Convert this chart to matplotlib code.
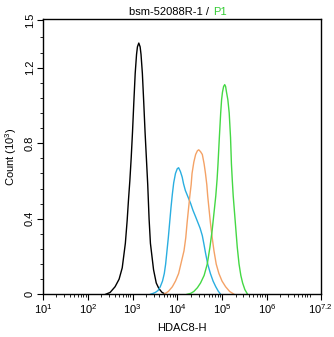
import matplotlib
matplotlib.use("Agg")
import matplotlib.pyplot as plt
from matplotlib.ticker import FixedLocator, LogLocator, NullFormatter
import numpy as np

plt.rcParams['font.family'] = ['Liberation Sans', 'DejaVu Sans']
plt.rcParams['mathtext.fontset'] = 'custom'
plt.rcParams['mathtext.rm'] = 'Liberation Sans'
plt.rcParams['mathtext.it'] = 'Liberation Sans'

# histogram outlines: log10(HDAC8-H) vs count (10^3)
black_logx = [2.40, 2.50, 2.61, 2.70, 2.77, 2.84, 2.88, 2.91, 2.94, 2.97, 3.00,
              3.03, 3.06, 3.09, 3.11, 3.14, 3.17, 3.19, 3.22, 3.25, 3.28, 3.31,
              3.34, 3.37, 3.40, 3.44, 3.47, 3.53, 3.59, 3.66, 3.74]
black_count = [0.0, 0.01, 0.04, 0.08, 0.14, 0.27, 0.39, 0.50, 0.60, 0.72, 0.86,
               1.02, 1.17, 1.27, 1.31, 1.33, 1.31, 1.27, 1.17, 1.02, 0.86, 0.72,
               0.58, 0.40, 0.27, 0.19, 0.13, 0.06, 0.03, 0.01, 0.0]

blue_logx = [3.40, 3.46, 3.51, 3.57, 3.62, 3.67, 3.71, 3.74, 3.77, 3.80, 3.83,
             3.86, 3.89, 3.92, 3.96, 4.00, 4.03, 4.07, 4.11, 4.14, 4.18, 4.24,
             4.30, 4.35, 4.41, 4.46, 4.51, 4.56, 4.60, 4.63, 4.68, 4.74, 4.80,
             4.86, 4.92, 4.97]
blue_count = [0.0, 0.005, 0.01, 0.02, 0.04, 0.07, 0.11, 0.16, 0.23, 0.30, 0.38,
              0.46, 0.53, 0.59, 0.64, 0.665, 0.67, 0.65, 0.62, 0.585, 0.55, 0.515,
              0.48, 0.445, 0.41, 0.38, 0.35, 0.31, 0.26, 0.22, 0.16, 0.11, 0.07,
              0.04, 0.015, 0.0]

orange_logx = [3.70, 3.80, 3.89, 3.96, 4.03, 4.09, 4.15, 4.19, 4.22, 4.25, 4.28,
               4.31, 4.33, 4.37, 4.41, 4.45, 4.48, 4.52, 4.56, 4.60, 4.63, 4.66,
               4.68, 4.71, 4.74, 4.78, 4.82, 4.87, 4.93, 5.00, 5.08, 5.17, 5.27]
orange_count = [0.0, 0.015, 0.04, 0.07, 0.11, 0.17, 0.23, 0.30, 0.38, 0.45, 0.52,
                0.58, 0.64, 0.70, 0.74, 0.76, 0.765, 0.755, 0.74, 0.69, 0.64, 0.58,
                0.52, 0.45, 0.38, 0.30, 0.23, 0.16, 0.11, 0.07, 0.04, 0.015, 0.0]

green_logx = [4.22, 4.30, 4.37, 4.45, 4.52, 4.60, 4.67, 4.73, 4.78, 4.82, 4.86,
              4.89, 4.91, 4.94, 4.97, 4.99, 5.01, 5.035, 5.06, 5.08, 5.10, 5.13,
              5.16, 5.19, 5.21, 5.23, 5.25, 5.28, 5.31, 5.34, 5.38, 5.42, 5.46,
              5.51, 5.57]
green_count = [0.0, 0.005, 0.015, 0.035, 0.06, 0.10, 0.16, 0.25, 0.34, 0.43, 0.52,
               0.61, 0.69, 0.83, 0.96, 1.03, 1.07, 1.10, 1.11, 1.10, 1.07, 1.03,
               0.96, 0.83, 0.69, 0.60, 0.52, 0.43, 0.34, 0.25, 0.16, 0.10, 0.06,
               0.025, 0.0]

curves = [
    (black_logx, black_count, '#000000'),
    (blue_logx, blue_count, '#2aaee0'),
    (orange_logx, orange_count, '#f4a266'),
    (green_logx, green_count, '#44d844'),
]

y_major = [0, 0.4, 0.8, 1.2, 1.45]
y_major_labels = ['0', '0.4', '0.8', '1.2', '1.5']
x_major_exp = [1, 2, 3, 4, 5, 6, 7.2]

fig = plt.figure(figsize=(3.34, 3.37), dpi=100)
W, H = 334, 337
ax = fig.add_axes([43 / W, 1 - 294.3 / H, (320.5 - 43) / W, (294.3 - 18.5) / H])

for lx, cnt, col in curves:
    ax.plot(10 ** np.array(lx), cnt, color=col, lw=1.0)

ax.set_xscale('log')
ax.set_xlim(10, 10 ** 7.2)
ax.set_ylim(0, 1.46)

ax.xaxis.set_major_locator(FixedLocator([10 ** e for e in x_major_exp]))
ax.set_xticklabels(['$\\mathregular{10^{%g}}$' % e for e in x_major_exp])
ax.xaxis.set_minor_locator(LogLocator(base=10, subs=np.arange(2, 10), numticks=20))
ax.xaxis.set_minor_formatter(NullFormatter())

ax.yaxis.set_major_locator(FixedLocator(y_major))
ax.set_yticklabels(y_major_labels, rotation=90, va='center')
y_minor = [v for v in np.arange(0.08, 1.44, 0.08) if min(abs(v - m) for m in y_major) > 0.02]
ax.yaxis.set_minor_locator(FixedLocator(y_minor))

ax.tick_params(which='major', length=4, width=0.8, labelsize=8, pad=2)
ax.tick_params(which='minor', length=2, width=0.6)
for s in ax.spines.values():
    s.set_linewidth(1.0)

ax.set_xlabel('HDAC8-H', fontsize=8, labelpad=5)
ax.set_ylabel('Count $\\mathregular{(10^3)}$', fontsize=8, labelpad=4)

fig.text(212 / W, 1 - 12 / H, 'bsm-52088R-1 / ', ha='right', va='center', fontsize=8)
fig.text(213 / W, 1 - 12 / H, 'P1', ha='left', va='center', fontsize=8, color='#33cc33')

fig.savefig('out.png', dpi=100)
